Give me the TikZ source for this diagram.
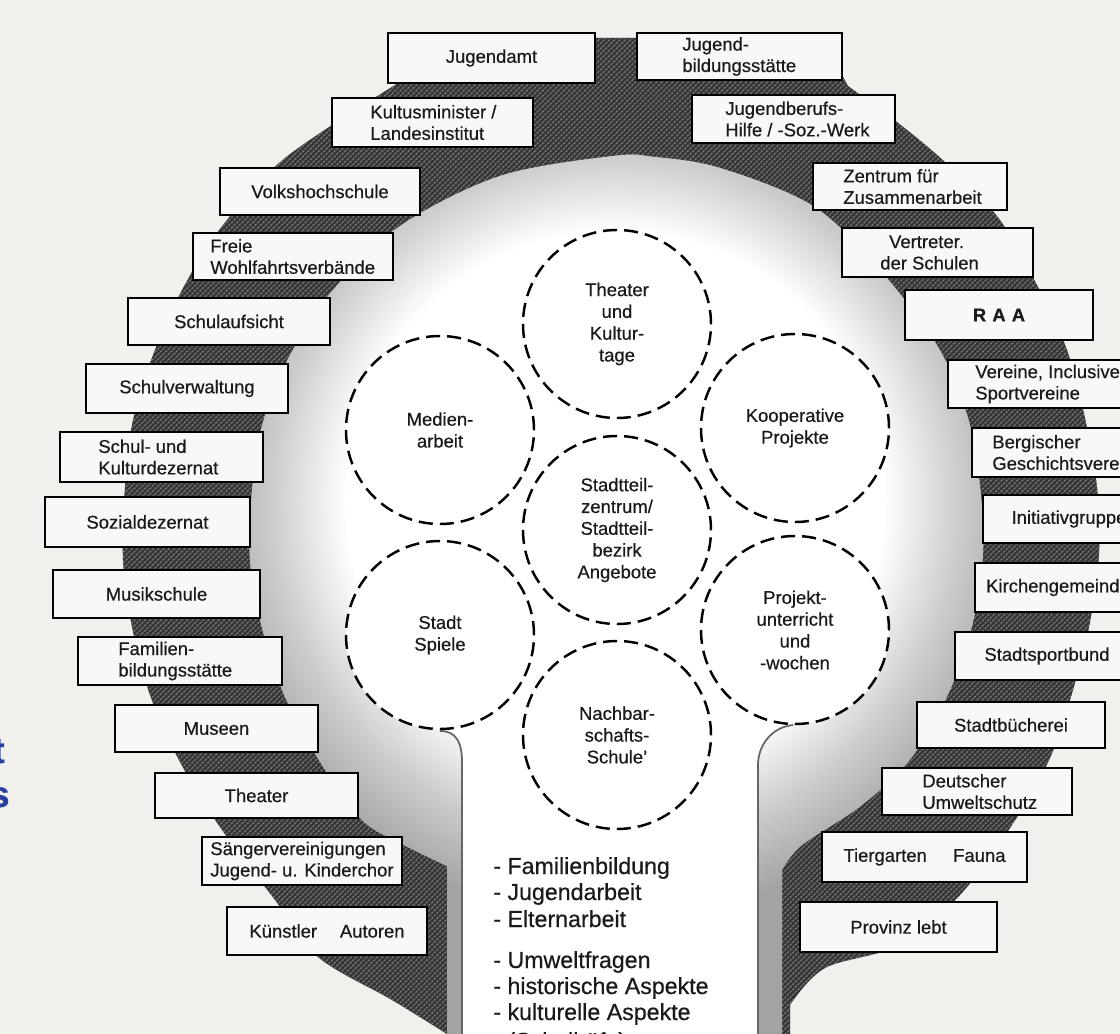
\documentclass[tikz,border=0pt]{standalone}
\usepackage{fontspec}
\setmainfont{Liberation Sans}[FakeBold=0.5]
\usetikzlibrary{patterns}
\definecolor{bgc}{HTML}{F1F0ED}
\definecolor{boxc}{HTML}{F8F8F6}
\definecolor{darkc}{HTML}{363636}
\definecolor{inkc}{HTML}{1A1A1A}
\definecolor{titleblue}{HTML}{2B3F9E}
\pgfdeclareradialshading{lightfade}{\pgfpoint{0bp}{0bp}}{color(0bp)=(white); color(16bp)=(white); color(20.5bp)=(black!20); color(25bp)=(black!36); color(50bp)=(black!36)}
\newcommand\boxfont{\fontsize{10.5}{12.2}\selectfont}
\newcommand\circfont{\fontsize{10.5}{12.4}\selectfont}
\newcommand\listfont{\fontsize{13.2}{15}\selectfont}
\tikzset{
  box/.style={draw=black, line width=1.1pt, fill=boxc, inner sep=0pt, align=center, font=\boxfont, text=inkc},
  boxtxt/.style={inner sep=0pt, align=left, anchor=west, font=\boxfont, text=inkc},
  ring/.style={circle, draw=black, line width=1.4pt, dash pattern=on 8pt off 4pt, fill=white, inner sep=0pt, align=center, font=\circfont, text=inkc},
  listline/.style={anchor=base west, inner sep=0pt, font=\listfont, text=inkc},
  stemline/.style={draw=black!60, line width=1pt},
  cutletter/.style={anchor=base east, inner sep=0pt, text=titleblue, font=\fontsize{21}{24}\selectfont\bfseries},
  darkpath/.style={insert path={(420,38) -- (822,38) -- plot[smooth, tension=0.55] coordinates {(848,86) (897,122) (947,164) (1000,220) (1037,285) (1067,350) (1085,418) (1097,487) (1099,554) (1090,622) (1073,690) (1050,758) (1012,825) (960,895) (900,945) (825,968) (790,1005)} -- (790,1040) -- (447,1040) -- plot[smooth, tension=0.55] coordinates {(447,1034) (392,1000) (318,957) (275,900) (222,830) (180,762) (150,695) (132,627) (123,560) (125,487) (133,420) (153,355) (182,290) (223,225) (285,158) (395,85)} -- cycle}},
  keyholepath/.style={insert path={(447,1040) -- plot[smooth, tension=0.55] coordinates {(447,866) (400,843) (362,820) (322,765) (285,697) (262,628) (250,560) (252,490) (263,422) (290,355) (333,290) (400,226) (500,176) (613,156) (655,157) (720,168) (813,206) (880,270) (938,347) (968,418) (980,486) (983,553) (973,622) (950,690) (912,757) (862,805) (802,845) (782,870)} -- (782,1040) -- cycle}}
}
\newcommand\cbox[6]{\node[box, minimum width={(#4-#2)*0.02cm}, minimum height={(#5-#3)*0.02cm}] (#1) at ({(#2+#4)/2},{(#3+#5)/2}) {#6};}
\newcommand\lbox[7]{\node[box, minimum width={(#4-#2)*0.02cm}, minimum height={(#5-#3)*0.02cm}] (#1) at ({(#2+#4)/2},{(#3+#5)/2}) {};
  \node[boxtxt] (#1-t) at (#6,{(#3+#5)/2}) {#7};}
\begin{document}
\begin{tikzpicture}[x=0.02cm, y=-0.02cm]
\useasboundingbox (0,0) rectangle (1120,1034);
\fill[bgc] (0,0) rectangle (1120,1034);

% dark band with hatch texture
\path[fill=darkc, darkpath];
\path[pattern=north east lines, pattern color=black!62, darkpath];
\path[pattern=crosshatch dots, pattern color=black!50, darkpath];

% light keyhole region
\path[fill=black!36, keyholepath];
\begin{scope}
  \clip[keyholepath];
  \shade[shading=lightfade] (615,500) circle (420);
\end{scope}

% stem interior
\fill[white] (440,731) .. controls (458,731) and (462,745) .. (462,762) -- (462,1040) -- (758,1040) -- (758,765) .. controls (758,745) and (772,727) .. (793,725) -- (793,600) -- (440,600) -- cycle;
\draw[stemline] (440,731) .. controls (458,731) and (462,745) .. (462,762) -- (462,1040);
\draw[stemline] (758,1040) -- (758,765) .. controls (758,745) and (772,727) .. (793,725);

% dashed circles
\node[ring, minimum size={188*0.02cm}] (theaterc) at (617,324) {Theater\\und\\Kultur-\\tage};
\node[ring, minimum size={188*0.02cm}] (medien) at (440,430) {Medien-\\arbeit};
\node[ring, minimum size={188*0.02cm}] (koop) at (795,428) {Kooperative\\Projekte};
\node[ring, minimum size={188*0.02cm}] (stadtteil) at (617,530) {Stadtteil-\\zentrum/\\Stadtteil-\\bezirk\\Angebote};
\node[ring, minimum size={188*0.02cm}] (spiele) at (440,635) {Stadt\\Spiele};
\node[ring, minimum size={188*0.02cm}] (projekt) at (795,630) {Projekt-\\unterricht\\und\\-wochen};
\node[ring, minimum size={188*0.02cm}] (nachbar) at (617,735) {Nachbar-\\schafts-\\Schule’};

% boxes
\cbox{jugendamt}{388}{33}{595}{83}{Jugendamt}
\lbox{jbild}{637}{33}{842}{80}{682}{Jugend-\\bildungsstätte}
\lbox{kultus}{332}{98}{533}{147}{370}{Kultusminister /\\Landesinstitut}
\lbox{jberuf}{692}{95}{895}{143}{725}{Jugendberufs-\\Hilfe / -Soz.-Werk}
\cbox{vhs}{220}{168}{420}{215}{Volkshochschule}
\lbox{zentrum}{813}{163}{1007}{210}{843}{Zentrum für\\Zusammenarbeit}
\lbox{freie}{193}{233}{393}{280}{210}{Freie\\Wohlfahrtsverbände}
\lbox{vertreter}{842}{228}{1033}{277}{880}{\hspace{5pt}Vertreter.\\der Schulen}
\cbox{aufsicht}{128}{298}{330}{345}{Schulaufsicht}
\cbox{raa}{905}{290}{1093}{340}{\textbf{R\,\,A\,\,A}}
\cbox{verwaltung}{86}{364}{288}{413}{Schulverwaltung}
\lbox{vereine}{948}{360}{1150}{408}{975}{Vereine, Inclusive\\Sportvereine}
\lbox{schulkultur}{60}{432}{263}{482}{98}{Schul- und\\Kulturdezernat}
\lbox{bergisch}{972}{428}{1170}{477}{992}{Bergischer\\Geschichtsverein}
\cbox{sozial}{45}{497}{250}{547}{Sozialdezernat}
\cbox{initiativ}{983}{495}{1155}{543}{Initiativgruppe}
\cbox{musik}{53}{570}{260}{618}{Musikschule}
\cbox{kirche}{975}{563}{1141}{612}{Kirchengemeinde}
\lbox{familien}{78}{637}{282}{685}{118}{Familien-\\bildungsstätte}
\cbox{sport}{955}{632}{1139}{680}{Stadtsportbund}
\cbox{museen}{115}{705}{318}{752}{Museen}
\cbox{buecherei}{917}{702}{1105}{748}{Stadtbücherei}
\cbox{theaterbox}{155}{773}{358}{818}{Theater}
\lbox{deutscher}{882}{768}{1072}{815}{922}{Deutscher\\Umweltschutz}
\lbox{saenger}{202}{837}{402}{885}{210}{Sängervereinigungen\\Jugend- u. Kinderchor}
\cbox{tiergarten}{822}{832}{1027}{882}{Tiergarten\hspace{15pt}Fauna}
\cbox{kuenstler}{227}{907}{427}{955}{Künstler\hspace{13pt}Autoren}
\cbox{provinz}{800}{902}{997}{952}{Provinz lebt}

% list in the stem
\node[listline] (l1) at (493,874) {- Familienbildung};
\node[listline] (l2) at (493,900) {- Jugendarbeit};
\node[listline] (l3) at (493,927) {- Elternarbeit};
\node[listline] (l4) at (493,968) {- Umweltfragen};
\node[listline] (l5) at (493,994) {- historische Aspekte};
\node[listline] (l6) at (493,1020) {- kulturelle Aspekte};
\node[listline] (l7) at (493,1049) {- (Schulhöfe)};

% cut-off title letters at the left edge
\node[cutletter] (cutA) at (5,763) {t};
\node[cutletter] (cutB) at (10,807) {s};
\end{tikzpicture}
\end{document}
